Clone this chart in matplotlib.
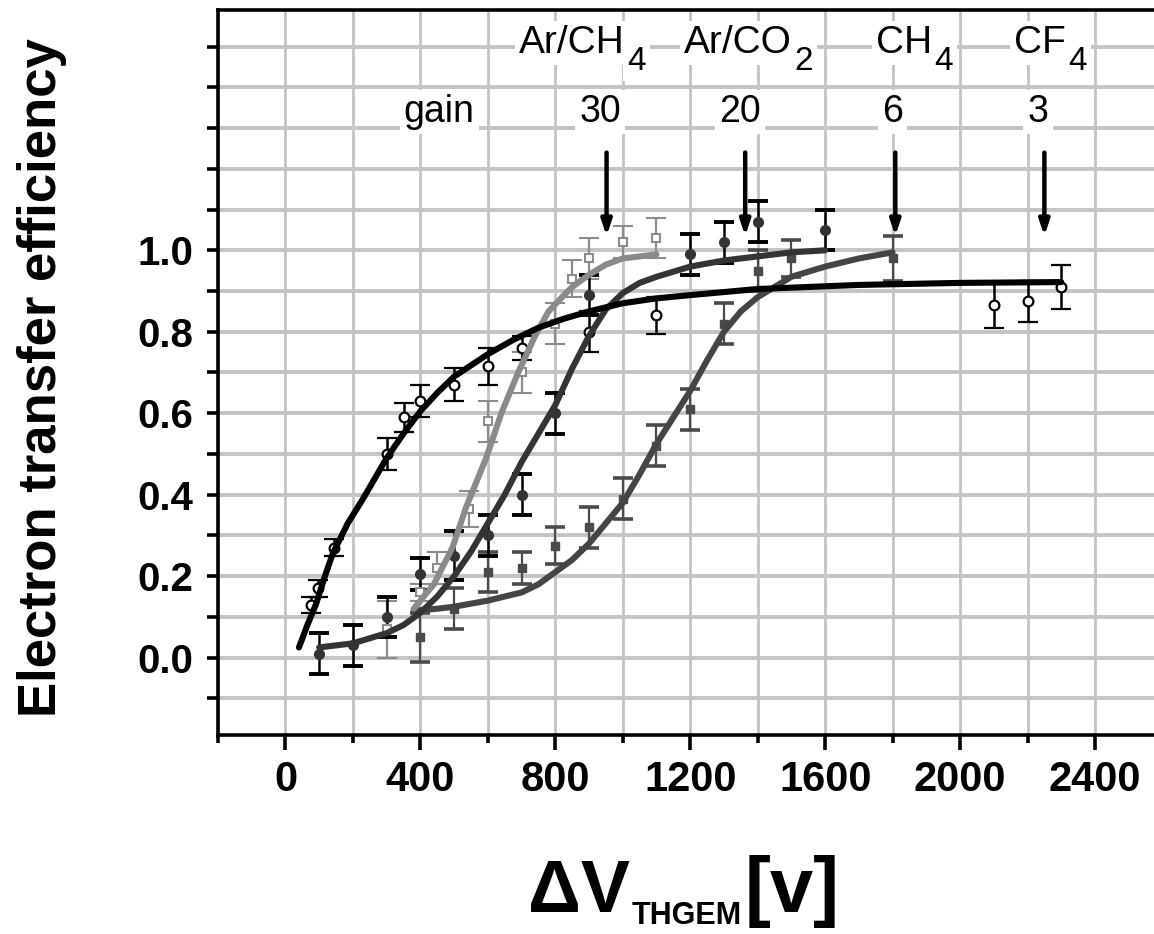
import matplotlib
matplotlib.use("Agg")
import matplotlib.pyplot as plt
from matplotlib.ticker import MultipleLocator, FuncFormatter

plt.rcParams['font.family'] = ['Liberation Sans', 'DejaVu Sans']

# ---------------- data ----------------
# CF4 (black, open circles)
cf4_x = [77, 95, 145, 300, 350, 400, 500, 600, 700, 900, 1100, 2100, 2200, 2300]
cf4_y = [0.13, 0.17, 0.27, 0.50, 0.59, 0.63, 0.67, 0.715, 0.76, 0.80, 0.84, 0.865, 0.875, 0.91]
cf4_err = [0.02, 0.02, 0.02, 0.04, 0.035, 0.04, 0.04, 0.045, 0.03, 0.05, 0.045, 0.055, 0.05, 0.055]
cf4_fit_x = [40, 65, 90, 115, 140, 185, 230, 300, 350, 400, 450, 500, 600, 675, 750, 825,
             900, 1000, 1100, 1200, 1400, 1700, 2000, 2300]
cf4_fit_y = [0.025, 0.08, 0.13, 0.195, 0.255, 0.33, 0.39, 0.49, 0.55, 0.605, 0.65, 0.69, 0.745,
             0.78, 0.81, 0.832, 0.85, 0.87, 0.882, 0.89, 0.905, 0.915, 0.92, 0.922]

# Ar/CO2 (dark, filled circles)
arco2_x = [100, 200, 300, 400, 500, 600, 700, 800, 900, 1200, 1300, 1400, 1600]
arco2_y = [0.01, 0.03, 0.10, 0.205, 0.25, 0.30, 0.40, 0.60, 0.89, 0.99, 1.02, 1.07, 1.05]
arco2_err = [0.05, 0.05, 0.05, 0.04, 0.06, 0.05, 0.05, 0.05, 0.05, 0.05, 0.05, 0.05, 0.05]
arco2_fit_x = [100, 200, 300, 350, 400, 450, 500, 550, 600, 650, 700, 750, 800, 850, 900, 950,
               1000, 1050, 1100, 1200, 1300, 1400, 1500, 1600]
arco2_fit_y = [0.025, 0.035, 0.06, 0.08, 0.11, 0.15, 0.20, 0.26, 0.33, 0.40, 0.48, 0.55, 0.62,
               0.71, 0.79, 0.855, 0.895, 0.92, 0.935, 0.96, 0.975, 0.985, 0.995, 1.0]

# Ar/CH4 (light gray, open squares)
arch4_x = [300, 400, 450, 545, 600, 700, 800, 850, 900, 1000, 1100]
arch4_y = [0.07, 0.16, 0.22, 0.365, 0.58, 0.70, 0.82, 0.93, 0.98, 1.02, 1.03]
arch4_err = [0.07, 0.02, 0.04, 0.045, 0.05, 0.05, 0.05, 0.045, 0.05, 0.04, 0.05]
arch4_fit_x = [380, 440, 495, 536, 595, 640, 690, 740, 780, 820, 850, 900, 950, 1000, 1100]
arch4_fit_y = [0.12, 0.18, 0.27, 0.37, 0.49, 0.60, 0.70, 0.79, 0.85, 0.885, 0.91, 0.94, 0.965,
               0.98, 0.99]

# CH4 (mid-dark gray, filled squares)
ch4_x = [400, 500, 600, 700, 800, 900, 1000, 1100, 1200, 1300, 1400, 1500, 1800]
ch4_y = [0.05, 0.12, 0.21, 0.22, 0.275, 0.32, 0.39, 0.52, 0.61, 0.82, 0.95, 0.98, 0.98]
ch4_err = [0.06, 0.05, 0.05, 0.04, 0.045, 0.05, 0.05, 0.05, 0.05, 0.05, 0.05, 0.045, 0.055]
ch4_fit_x = [380, 450, 500, 600, 700, 750, 800, 850, 900, 950, 1000, 1050, 1100, 1150, 1200,
             1250, 1300, 1350, 1400, 1500, 1600, 1700, 1800]
ch4_fit_y = [0.115, 0.12, 0.125, 0.14, 0.16, 0.18, 0.21, 0.24, 0.28, 0.33, 0.38, 0.45, 0.525,
             0.59, 0.655, 0.73, 0.80, 0.85, 0.885, 0.935, 0.96, 0.98, 0.995]

# annotations
gas_main = ['Ar/CH', 'Ar/CO', 'CH', 'CF']
gas_sub = ['4', '2', '4', '4']
gas_main_end_x = [1007, 1502, 1917, 2314]
gain_values = ['30', '20', '6', '3']
gain_x = [933, 1348, 1799, 2231]
arrow_x = [952, 1363, 1808, 2250]
arrow_top = 1.24
arrow_tip = 1.035

# ---------------- figure ----------------
fig = plt.figure(figsize=(11.54, 9.34), dpi=100)
ax = fig.add_axes([218 / 1154, 1 - 735 / 934, 1 - 218 / 1154, 725 / 934])
ax.set_xlim(-200, 2575)
ax.set_ylim(-0.19, 1.59)

ax.set_axisbelow(True)
ax.xaxis.set_major_locator(MultipleLocator(400))
ax.xaxis.set_minor_locator(MultipleLocator(200))
ax.yaxis.set_major_locator(MultipleLocator(0.2))
ax.yaxis.set_minor_locator(MultipleLocator(0.1))
ax.grid(True, which='both', axis='y', color='#c3c3c3', lw=2.8)
ax.grid(True, which='both', axis='x', color='#c3c3c3', lw=2.0)

ax.yaxis.set_major_formatter(FuncFormatter(lambda v, p: f"{v:.1f}" if -0.05 < v < 1.05 else ""))
ax.xaxis.set_major_formatter(FuncFormatter(lambda v, p: f"{int(round(v))}"))

for s in ['left', 'bottom', 'top']:
    ax.spines[s].set_linewidth(2.6)
    ax.spines[s].set_color('black')
ax.spines['right'].set_visible(False)

ax.tick_params(axis='x', which='major', direction='out', length=11, width=2.6,
               labelsize=30, pad=7)
ax.tick_params(axis='x', which='minor', direction='out', length=6, width=2.6)
ax.tick_params(axis='y', which='both', direction='out', length=8, width=2.6,
               labelsize=29, pad=10)
for lab in ax.get_xticklabels() + ax.get_yticklabels():
    lab.set_fontweight('bold')

cap = 7
# error bars + markers
ax.errorbar(ch4_x, ch4_y, yerr=ch4_err, fmt='s', ms=6, color='#4a4a4a', mfc='#4a4a4a',
            mec='#4a4a4a', ecolor='#4a4a4a', elinewidth=1.6, capsize=cap, capthick=2.6, zorder=3)
ax.errorbar(arch4_x, arch4_y, yerr=arch4_err, fmt='s', ms=6, color='#8c8c8c', mfc='white',
            mec='#8c8c8c', mew=1.5, ecolor='#8c8c8c', elinewidth=1.6, capsize=cap, capthick=2.6, zorder=3)
ax.errorbar(arco2_x, arco2_y, yerr=arco2_err, fmt='o', ms=7, color='#333333', mfc='#333333',
            mec='#333333', ecolor='black', elinewidth=1.8, capsize=cap, capthick=2.8, zorder=3)
ax.errorbar(cf4_x, cf4_y, yerr=cf4_err, fmt='o', ms=7, color='black', mfc='white',
            mec='black', mew=1.6, ecolor='black', elinewidth=1.8, capsize=cap, capthick=2.8, zorder=3)

# fitted curves
ax.plot(ch4_fit_x, ch4_fit_y, color='#454545', lw=4.4, zorder=4, solid_capstyle='round',
        solid_joinstyle='round')
ax.plot(arco2_fit_x, arco2_fit_y, color='#343434', lw=4.4, zorder=4.1, solid_capstyle='round',
        solid_joinstyle='round')
ax.plot(arch4_fit_x, arch4_fit_y, color='#8a8a8a', lw=4.4, zorder=4.2, solid_capstyle='round',
        solid_joinstyle='round')
ax.plot(cf4_fit_x, cf4_fit_y, color='black', lw=4.4, zorder=4.3, solid_capstyle='round',
        solid_joinstyle='round')

# arrows
for xa in arrow_x:
    ax.annotate('', xy=(xa, arrow_tip), xytext=(xa, arrow_top),
                arrowprops=dict(arrowstyle='-|>,head_length=0.9,head_width=0.3',
                                color='black', lw=3.2, shrinkA=0, shrinkB=0),
                zorder=5)

box = dict(facecolor='white', edgecolor='none', pad=3)
for main, sub, xe in zip(gas_main, gas_sub, gas_main_end_x):
    ax.text(xe, 1.484, main, ha='right', va='baseline', fontsize=28, bbox=box, zorder=2.5)
    ax.text(xe + 6, 1.442, sub, ha='left', va='baseline', fontsize=24, bbox=box, zorder=2.6)
ax.text(456, 1.315, 'gain', ha='center', va='baseline', fontsize=27, bbox=box, zorder=2.5)
for g, xg in zip(gain_values, gain_x):
    ax.text(xg, 1.315, g, ha='center', va='baseline', fontsize=27, bbox=box, zorder=2.5)

# axis labels
fig.text(42 / 1154, 1 - 378 / 934, 'Electron transfer efficiency', rotation=90,
         ha='center', va='center', fontsize=38, fontweight='bold')
fig.text(630 / 1154, 1 - 912 / 934, '\u0394V', ha='right', va='baseline',
         fontsize=53, fontweight='bold')
fig.text(632 / 1154, 1 - 924 / 934, 'THGEM', ha='left', va='baseline',
         fontsize=22, fontweight='bold')
fig.text(745 / 1154, 1 - 912 / 934, '[v]', ha='left', va='baseline',
         fontsize=56, fontweight='bold')

fig.savefig('out.png', dpi=100)
